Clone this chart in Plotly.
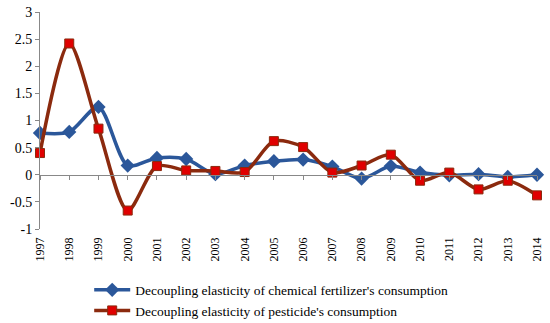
import plotly.graph_objects as go

years = [str(y) for y in range(1997, 2015)]
fertilizer = [0.77, 0.79, 1.25, 0.17, 0.31, 0.29, 0.01, 0.17, 0.25, 0.28,
              0.15, -0.07, 0.16, 0.04, -0.01, 0.01, -0.04, 0.00]
pesticide = [0.40, 2.42, 0.85, -0.66, 0.16, 0.08, 0.07, 0.05, 0.62, 0.51,
             0.04, 0.17, 0.37, -0.11, 0.04, -0.27, -0.11, -0.38]
yticks = [3, 2.5, 2, 1.5, 1, 0.5, 0, -0.5, -1]

font = "Liberation Serif"
x = list(range(len(years)))

fig = go.Figure()
fig.add_trace(go.Scatter(
    x=x, y=fertilizer, mode="lines+markers",
    name="Decoupling elasticity of chemical fertilizer's consumption",
    line=dict(color="#2B579A", width=3.5, shape="spline", smoothing=0.8),
    marker=dict(symbol="diamond", size=11, color="#2B579A"),
    cliponaxis=False,
))
fig.add_trace(go.Scatter(
    x=x, y=pesticide, mode="lines+markers",
    name="Decoupling elasticity of pesticide's consumption",
    line=dict(color="#8B2A0E", width=3.5, shape="spline", smoothing=0.8),
    marker=dict(symbol="square", size=9, color="#E00000",
                line=dict(color="#8B2A0E", width=1)),
    cliponaxis=False,
))
# axis drawn at y=0 carrying tick marks
fig.add_trace(go.Scatter(x=x, y=[None]*len(x), xaxis="x2", showlegend=False,
                         hoverinfo="skip"))

fig.update_layout(
    width=550, height=323,
    margin=dict(l=40, r=13, t=12, b=94, autoexpand=False),
    paper_bgcolor="white", plot_bgcolor="white",
    font=dict(family=font, size=13, color="black"),
    xaxis=dict(
        range=[0, len(years) - 1], tickvals=x, ticktext=years,
        tickangle=-90, showgrid=False, zeroline=False, showline=False,
        ticks="", tickfont=dict(size=12), automargin=False,
        ticklabelstandoff=5,
    ),
    xaxis2=dict(
        overlaying="x", matches="x", anchor="free", position=1/4.0,
        range=[0, len(years) - 1], tickvals=x, showticklabels=False,
        showgrid=False, zeroline=False, showline=True, linecolor="#888888",
        linewidth=1, ticks="outside", ticklen=4, tickcolor="#888888",
        automargin=False,
    ),
    yaxis=dict(
        range=[-1, 3], tickvals=yticks, ticktext=[str(v) for v in yticks],
        showgrid=False, zeroline=False, showline=True, linecolor="#888888",
        linewidth=1, ticks="outside", ticklen=4, tickcolor="#888888",
        tickfont=dict(size=14), automargin=False,
    ),
    legend=dict(
        x=0.099, y=-0.21, xanchor="left", yanchor="top",
        font=dict(size=13.5), itemwidth=36, tracegroupgap=0,
        bgcolor="rgba(0,0,0,0)",
    ),
    showlegend=True,
)

fig.write_html("out.html", config={"displayModeBar": False},
               post_script="document.body.style.margin='0';")
